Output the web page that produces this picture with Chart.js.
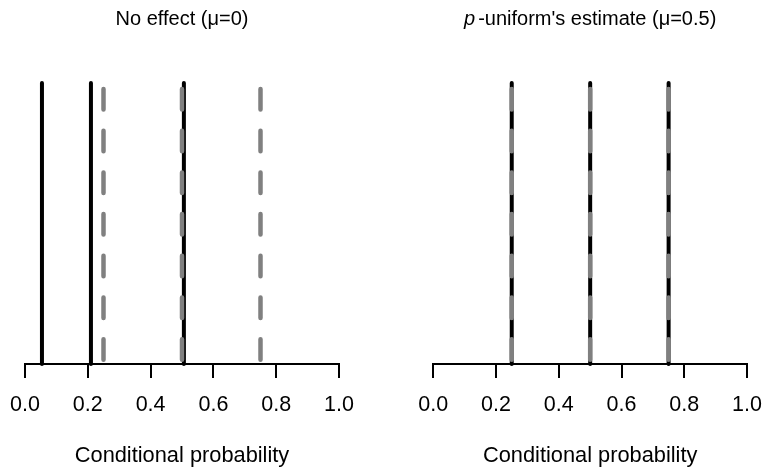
<!DOCTYPE html>
<html lang="en">
<head>
<meta charset="UTF-8">
<title>Conditional probability</title>
<script src="https://cdn.jsdelivr.net/npm/chart.js"></script>
<style>
  body { margin: 0; background: #fff; overflow: hidden; }
  .panel { position: absolute; top: 0; }
  #left { left: 0; }
  #right { left: 381px; }
</style>
</head>
<body>
<canvas id="left" class="panel" width="381" height="467"></canvas>
<canvas id="right" class="panel" width="381" height="467"></canvas>
<script>
    // observed conditional probabilities (black, solid)
    const noEffectObserved = [0.054, 0.21, 0.506];
    const puniformObserved = [0.25, 0.5, 0.75];
    // expected under uniformity (grey, dashed)
    const noEffectExpected = [0.25, 0.5, 0.75];
    const puniformExpected = [0.25, 0.5, 0.75];

    const xTicks = [0, 0.2, 0.4, 0.6, 0.8, 1];
    const xTickLabels = ['0.0', '0.2', '0.4', '0.6', '0.8', '1.0'];

    const noEffectTitle = [{ text: 'No effect (\u03bc=0)' }];
    const puniformTitle = [{ text: 'p', italic: true, gap: 3 }, { text: "-uniform's estimate (\u03bc=0.5)" }];

    const FONT = "'Liberation Sans', Arial, sans-serif";

    function vline(x, solid) {
        return {
            data: [{ x: x, y: 1 }, { x: x, y: 0 }],
            borderColor: solid ? '#000000' : '#808080',
            borderWidth: solid ? 4 : 4.5,
            borderDash: solid ? [] : [20.5, 21.2],
            borderDashOffset: solid ? 0 : 35.7,
            borderCapStyle: 'round',
            pointRadius: 0,
            order: solid ? 1 : 0,
            clip: false
        };
    }

    // panel title drawn by hand so the "p" can be italic
    function titlePlugin(parts) {
        return {
            id: 'panelTitle',
            afterDraw(chart) {
                const ctx = chart.ctx;
                const area = chart.chartArea;
                ctx.save();
                ctx.fillStyle = '#000';
                ctx.textBaseline = 'alphabetic';
                let total = 0;
                const widths = parts.map(p => {
                    ctx.font = (p.italic ? 'italic ' : '') + '20px ' + FONT;
                    const w = ctx.measureText(p.text).width + (p.gap || 0);
                    total += w;
                    return w;
                });
                let x = (area.left + area.right) / 2 - total / 2;
                parts.forEach((p, i) => {
                    ctx.font = (p.italic ? 'italic ' : '') + '20px ' + FONT;
                    ctx.fillText(p.text, x, 25);
                    x += widths[i];
                });
                ctx.restore();
            }
        };
    }

    function generateChart(id, observed, expected, title, pad) {
        const datasets = observed.map(v => vline(v, true))
            .concat(expected.map(v => vline(v, false)));
        new Chart(document.getElementById(id), {
            type: 'line',
            data: { datasets: datasets },
            options: {
                responsive: false,
                animation: false,
                events: [],
                layout: { padding: pad },
                plugins: {
                    legend: { display: false },
                    tooltip: { enabled: false },
                    title: { display: false }
                },
                scales: {
                    x: {
                        type: 'linear',
                        min: 0,
                        max: 1,
                        afterBuildTicks: s => { s.ticks = xTicks.map(v => ({ value: v })); },
                        ticks: {
                            callback: (v, i) => xTickLabels[i],
                            color: '#000',
                            font: { family: FONT, size: 21.5, lineHeight: '54px' },
                            padding: 0,
                            maxRotation: 0,
                            autoSkip: false
                        },
                        grid: { drawOnChartArea: false, tickLength: 14, color: '#000', lineWidth: 2 },
                        border: { color: '#000', width: 2 },
                        title: {
                            display: true,
                            text: 'Conditional probability',
                            color: '#000',
                            font: { family: FONT, size: 21.8, lineHeight: 1 },
                            padding: { top: 13.2, bottom: 0 }
                        }
                    },
                    y: { display: false, min: 0, max: 1 }
                }
            },
            plugins: [titlePlugin(title)]
        });
    }

    generateChart('left', noEffectObserved, noEffectExpected, noEffectTitle,
        { top: 83, left: 25, right: 42, bottom: 0 });
    generateChart('right', puniformObserved, puniformExpected, puniformTitle,
        { top: 83, left: 52.3, right: 14.3, bottom: 0 });
</script>
</body>
</html>
